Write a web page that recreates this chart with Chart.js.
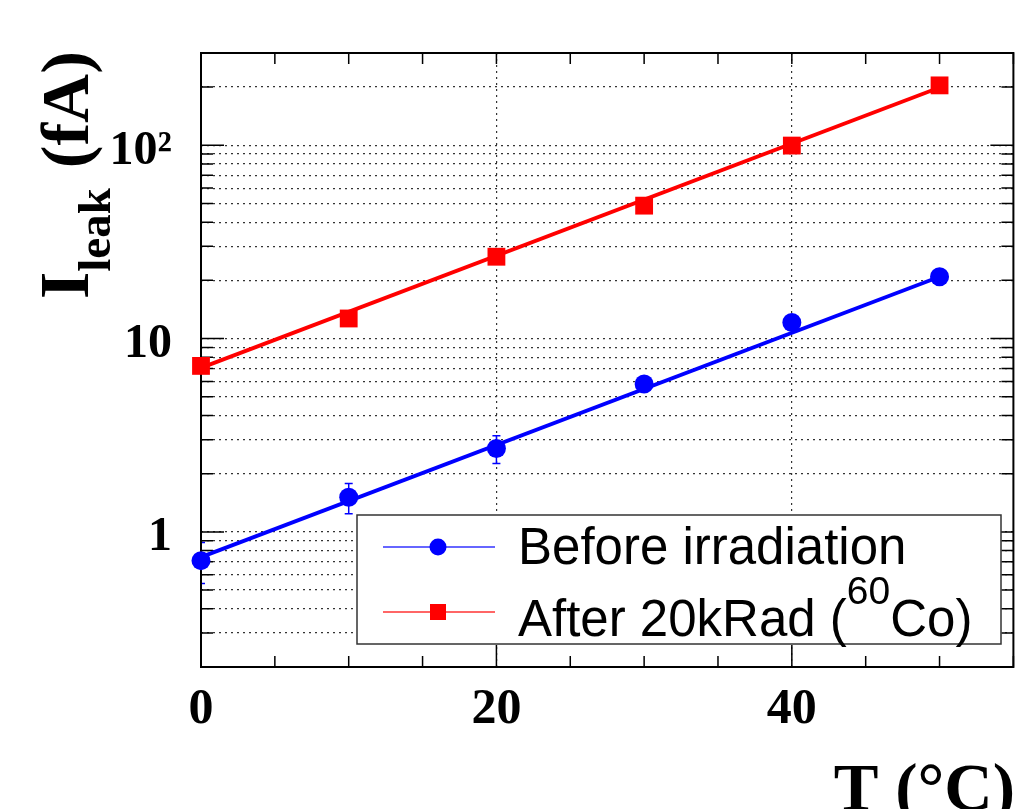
<!DOCTYPE html>
<html>
<head>
<meta charset="utf-8">
<script src="https://cdn.jsdelivr.net/npm/chart.js@4.4.0/dist/chart.umd.min.js"></script>
<style>
  html, body { margin: 0; padding: 0; background: #fff; }
  #wrap { width: 1026px; height: 809px; }
</style>
</head>
<body>
<div id="wrap"><canvas id="leak" width="1026" height="809"></canvas></div>
<script>
// temperatures (deg C) and leakage currents (fA)
const temps = [0, 10, 20, 30, 40, 50];
const beforeIrr = [0.71, 1.51, 2.70, 5.82, 12.1, 20.9];
const beforeErr = [0.17, 0.27, 0.44, 0.3, 0.5, 0.8];
const afterIrr = [7.22, 12.7, 26.5, 48.7, 99.6, 204];

// exponential fits, read at the ends of the drawn lines
const fitT = [0, 50];
const beforeFit = [0.74, 20.9];
const afterFit = [7.05, 199];

// axis ticks
const xLabelValues = [0, 20, 40];
const yGridValues = [0.2, 0.3, 0.4, 0.5, 0.6, 0.7, 0.8, 0.9,
  1, 2, 3, 4, 5, 6, 7, 8, 9,
  10, 20, 30, 40, 50, 60, 70, 80, 90,
  100, 200, 300];
const yLabelValues = [1, 10, 100];
const yLabelTexts = ['1', '10', '10²'];

const SERIF = "'Liberation Serif', 'DejaVu Serif', serif";
const SANS = "'Liberation Sans', Arial, sans-serif";

const pts = (xs, ys) => xs.map((v, i) => ({ x: v, y: ys[i] }));

const frame = {
  id: 'frame',
  beforeDatasetsDraw(chart) {
    const { ctx, chartArea: a, scales: { x, y } } = chart;
    ctx.save();

    // error bars (clipped to the frame)
    ctx.save();
    ctx.beginPath();
    ctx.rect(a.left, a.top, a.width, a.height);
    ctx.clip();
    ctx.strokeStyle = '#0000ff';
    ctx.lineWidth = 1.5;
    temps.forEach((t, i) => {
      const px = x.getPixelForValue(t);
      const lo = y.getPixelForValue(beforeIrr[i] - beforeErr[i]);
      const hi = y.getPixelForValue(beforeIrr[i] + beforeErr[i]);
      ctx.beginPath();
      ctx.moveTo(px, lo); ctx.lineTo(px, hi);
      ctx.moveTo(px - 4, lo); ctx.lineTo(px + 4, lo);
      ctx.moveTo(px - 4, hi); ctx.lineTo(px + 4, hi);
      ctx.stroke();
    });
    ctx.restore();

    // inward tick marks
    ctx.strokeStyle = '#000';
    ctx.lineWidth = 1.5;
    ctx.beginPath();
    x.ticks.forEach(t => {
      const px = x.getPixelForValue(t.value);
      const big = t.value % 20 === 0;
      ctx.moveTo(px, a.bottom); ctx.lineTo(px, a.bottom - (big ? 22 : 11));
      ctx.moveTo(px, a.top); ctx.lineTo(px, a.top + 11);
    });
    yGridValues.forEach(v => {
      const py = y.getPixelForValue(v);
      const len = yLabelValues.includes(v) ? 23 : 12;
      ctx.moveTo(a.left, py); ctx.lineTo(a.left + len, py);
      ctx.moveTo(a.right, py); ctx.lineTo(a.right - len, py);
    });
    ctx.stroke();

    // frame
    ctx.lineWidth = 2;
    ctx.strokeRect(a.left, a.top, a.width, a.height);
    ctx.restore();
  },
  afterDatasetsDraw(chart) {
    const { ctx } = chart;
    ctx.save();
    // legend box
    ctx.fillStyle = '#fff';
    ctx.fillRect(357, 515, 644, 129);
    ctx.strokeStyle = '#333';
    ctx.lineWidth = 1.5;
    ctx.strokeRect(357, 515, 644, 129);

    const rows = [
      { y: 547, color: '#0000ff', line: 'rgba(0,0,255,0.6)', shape: 'circle' },
      { y: 612, color: '#ff0000', line: 'rgba(255,0,0,0.6)', shape: 'rect' }
    ];
    rows.forEach(r => {
      ctx.strokeStyle = r.line;
      ctx.lineWidth = 2;
      ctx.beginPath();
      ctx.moveTo(383, r.y); ctx.lineTo(495, r.y);
      ctx.stroke();
      ctx.fillStyle = r.color;
      if (r.shape === 'circle') {
        ctx.beginPath();
        ctx.arc(438, r.y, 8.5, 0, Math.PI * 2);
        ctx.fill();
      } else {
        ctx.fillRect(430, r.y - 8, 16, 16);
      }
    });

    ctx.fillStyle = '#000';
    ctx.textBaseline = 'alphabetic';
    ctx.textAlign = 'left';
    ctx.font = '51px ' + SANS;
    ctx.fillText('Before irradiation', 518, 564);
    let tx = 518;
    const part1 = 'After 20kRad (';
    ctx.fillText(part1, tx, 636);
    tx += ctx.measureText(part1).width;
    ctx.font = '39px ' + SANS;
    ctx.fillText('60', tx, 604);
    tx += ctx.measureText('60').width;
    ctx.font = '51px ' + SANS;
    ctx.fillText('Co)', tx, 636);
    ctx.restore();
  },
  afterDraw(chart) {
    const { ctx } = chart;
    ctx.save();
    ctx.fillStyle = '#000';
    ctx.textBaseline = 'alphabetic';

    // y title, rotated
    ctx.translate(88, 299);
    ctx.rotate(-Math.PI / 2);
    ctx.textAlign = 'left';
    ctx.font = 'bold 70px ' + SERIF;
    ctx.fillText('I', 0, 0);
    let p = ctx.measureText('I').width;
    ctx.font = 'bold 47px ' + SERIF;
    ctx.fillText('leak', p, 22);
    p += ctx.measureText('leak').width + 20;
    ctx.font = 'bold 68px ' + SERIF;
    ctx.fillText('(fA)', p, 0);
    ctx.restore();

    // x title
    ctx.save();
    ctx.fillStyle = '#000';
    ctx.textAlign = 'right';
    ctx.textBaseline = 'alphabetic';
    ctx.font = 'bold 67px ' + SERIF;
    ctx.fillText('T (°C)', 1015, 810);
    ctx.restore();
  }
};

new Chart(document.getElementById('leak'), {
  type: 'line',
  data: {
    datasets: [
      {
        label: 'Before irradiation',
        data: pts(temps, beforeIrr),
        showLine: false,
        pointStyle: 'circle',
        pointRadius: 9.5,
        pointBackgroundColor: '#0000ff',
        pointBorderColor: '#0000ff',
        pointBorderWidth: 0,
        clip: false
      },
      {
        label: 'After 20kRad (60Co)',
        data: pts(temps, afterIrr),
        showLine: false,
        pointStyle: 'rect',
        pointRadius: 12.6,
        pointBackgroundColor: '#ff0000',
        pointBorderColor: '#ff0000',
        pointBorderWidth: 0,
        clip: false
      },
      {
        label: 'fit before',
        data: pts(fitT, beforeFit),
        borderColor: '#0000ff',
        borderWidth: 3.8,
        pointRadius: 0,
        tension: 0
      },
      {
        label: 'fit after',
        data: pts(fitT, afterFit),
        borderColor: '#ff0000',
        borderWidth: 3.8,
        pointRadius: 0,
        tension: 0
      }
    ]
  },
  options: {
    responsive: false,
    animation: false,
    devicePixelRatio: 1,
    layout: { padding: { top: 53, right: 8, left: 0, bottom: 0 } },
    plugins: {
      legend: { display: false },
      tooltip: { enabled: false }
    },
    scales: {
      x: {
        type: 'linear',
        min: 0,
        max: 55,
        ticks: {
          stepSize: 5,
          autoSkip: false,
          maxRotation: 0,
          padding: 13,
          color: '#000',
          font: { family: SERIF, weight: 'bold', size: 50 },
          callback: v => xLabelValues.includes(v) ? String(v) : ''
        },
        grid: {
          drawTicks: false,
          lineWidth: 1.2,
          color: c => (c.tick && c.tick.value % 20 === 0 && c.tick.value > 0 && c.tick.value < 55) ? '#333' : 'rgba(0,0,0,0)'
        },
        border: { display: false, dash: [2, 4] },
        afterFit: s => { s.height = 142; s.paddingLeft = 0; s.paddingRight = 0; }
      },
      y: {
        type: 'logarithmic',
        min: 0.2,
        max: 300,
        afterBuildTicks: s => { s.ticks = yGridValues.map(v => ({ value: v })); },
        ticks: {
          autoSkip: false,
          padding: 29,
          labelOffset: 6,
          color: '#000',
          font: { family: SERIF, weight: 'bold', size: 48 },
          callback: v => {
            const k = yLabelValues.indexOf(v);
            return k >= 0 ? yLabelTexts[k] : '';
          }
        },
        grid: {
          drawTicks: false,
          lineWidth: 1.2,
          color: c => (c.tick && c.tick.value > 0.2 && c.tick.value < 300) ? '#333' : 'rgba(0,0,0,0)'
        },
        border: { display: false, dash: [2, 4] },
        afterFit: s => { s.width = 201; s.paddingTop = 0; s.paddingBottom = 0; }
      }
    }
  },
  plugins: [frame]
});
</script>
</body>
</html>
